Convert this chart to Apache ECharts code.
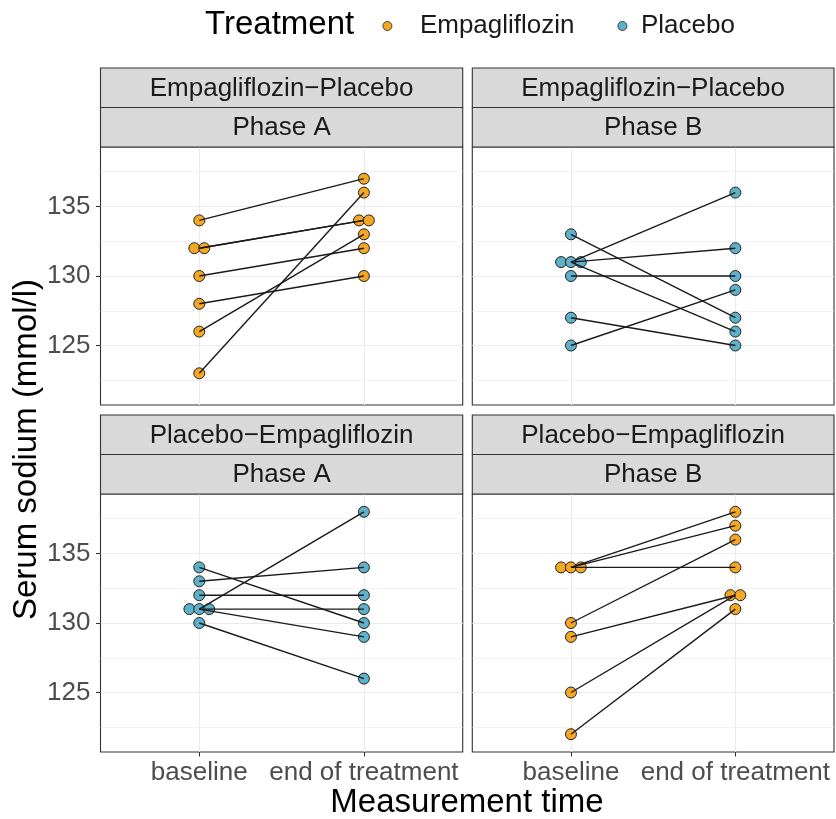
<!DOCTYPE html>
<html><head><meta charset="utf-8">
<script src="https://cdn.jsdelivr.net/npm/echarts@6/dist/echarts.min.js"></script>
<style>html,body{margin:0;padding:0;background:#fff}#c{width:836px;height:819px}</style>
</head><body><div id="c"></div>
<script>
// ---------- data ----------
const timeLabels = ['baseline', 'end of treatment'];
const sequenceLabels = ['Empagliflozin\u2212Placebo', 'Placebo\u2212Empagliflozin'];
const phaseLabels = ['Phase A', 'Phase B'];
const treatments = ['Empagliflozin', 'Placebo'];
const yTicks = [125, 130, 135];
const yMinorTicks = [122.5, 127.5, 132.5, 137.5];

// paired values per subject (baseline -> end of treatment)
const empPlaPhaseA_baseline = [134, 132, 132, 130, 128, 126, 123];
const empPlaPhaseA_end      = [137, 134, 134, 132, 130, 133, 136];
const empPlaPhaseB_baseline = [133, 131, 131, 131, 130, 127, 125];
const empPlaPhaseB_end      = [127, 136, 132, 126, 130, 125, 129];
const plaEmpPhaseA_baseline = [134, 133, 132, 131, 131, 131, 130];
const plaEmpPhaseA_end      = [130, 134, 132, 138, 131, 129, 126];
const plaEmpPhaseB_baseline = [134, 134, 134, 130, 129, 125, 122];
const plaEmpPhaseB_end      = [138, 137, 134, 136, 132, 132, 131];
const panelTreatment = ['Empagliflozin', 'Placebo', 'Placebo', 'Empagliflozin'];

// ---------- style / layout ----------
const FONT = '"Liberation Sans", Arial, Helvetica, sans-serif';
const COLORS = { 'Empagliflozin': '#F4A722', 'Placebo': '#5FB0C9' };
const Y_MIN = 120.72, Y_MAX = 139.28, X_MIN = 0.4, X_MAX = 2.6;
const DODGE = 0.06;
const colLeft = [100.5, 472.3], colWidth = [362.2, 361.7];
const rowTop = [147, 494], panelH = 258, stripH = 39.5;

const panels = [
  { seq: 0, phase: 0, b: empPlaPhaseA_baseline, e: empPlaPhaseA_end },
  { seq: 0, phase: 1, b: empPlaPhaseB_baseline, e: empPlaPhaseB_end },
  { seq: 1, phase: 0, b: plaEmpPhaseA_baseline, e: plaEmpPhaseA_end },
  { seq: 1, phase: 1, b: plaEmpPhaseB_baseline, e: plaEmpPhaseB_end }
];

function dodged(values, xPos) {
  const counts = {}, seen = {};
  values.forEach(v => { counts[v] = (counts[v] || 0) + 1; });
  return values.map(v => {
    const k = seen[v] || 0; seen[v] = k + 1;
    return [xPos + (k - (counts[v] - 1) / 2) * DODGE, v];
  });
}

const grids = [], xAxes = [], yAxes = [], series = [], graphics = [];
panels.forEach((p, i) => {
  const col = i % 2, row = Math.floor(i / 2);
  const left = colLeft[col], width = colWidth[col], top = rowTop[row];
  grids.push({ left: left, top: top, width: width, height: panelH, show: true,
    borderColor: '#333333', borderWidth: 1.1, backgroundColor: '#ffffff' });
  xAxes.push({ gridIndex: i, type: 'value', min: X_MIN, max: X_MAX,
    axisLine: { show: false },
    axisTick: { show: row === 1, customValues: [1, 2], length: 4.5, lineStyle: { color: '#333333', width: 1.1 } },
    axisLabel: { show: row === 1, customValues: [1, 2], formatter: v => timeLabels[Math.round(v) - 1],
      fontSize: 26, fontFamily: FONT, color: '#4D4D4D', margin: 8 },
    splitLine: { show: true, lineStyle: { color: '#EBEBEB', width: 1.1 } } });
  yAxes.push({ gridIndex: i, type: 'value', min: Y_MIN, max: Y_MAX,
    axisLine: { show: false },
    axisTick: { show: col === 0, customValues: yTicks, length: 4.5, lineStyle: { color: '#333333', width: 1.1 } },
    axisLabel: { show: col === 0, customValues: yTicks, fontSize: 26, fontFamily: FONT, color: '#4D4D4D', margin: 10 },
    splitLine: { show: true, lineStyle: { color: '#EBEBEB', width: 1.1 } } });
  yAxes.push({ gridIndex: i, type: 'value', min: Y_MIN, max: Y_MAX, position: 'left',
    axisLine: { show: false },
    axisTick: { show: false, customValues: yMinorTicks },
    axisLabel: { show: false },
    splitLine: { show: true, lineStyle: { color: '#EBEBEB', width: 0.6 } } });

  const tr = panelTreatment[i];
  series.push({ type: 'scatter', name: tr, xAxisIndex: i, yAxisIndex: 2 * i, z: 2,
    symbol: 'circle', symbolSize: 11,
    itemStyle: { color: COLORS[tr], borderColor: '#222222', borderWidth: 1, opacity: 1 },
    data: dodged(p.b, 1).concat(dodged(p.e, 2)) });
  p.b.forEach((bv, k) => {
    series.push({ type: 'line', xAxisIndex: i, yAxisIndex: 2 * i, z: 3, silent: true,
      symbol: 'none', lineStyle: { color: '#1A1A1A', width: 1.4 },
      data: [[1, bv], [2, p.e[k]]] });
  });

  // strips
  const labels = [sequenceLabels[p.seq], phaseLabels[p.phase]];
  labels.forEach((lab, s) => {
    const sy = top - 2 * stripH + s * stripH;
    graphics.push({ type: 'rect', shape: { x: left, y: sy, width: width, height: stripH },
      style: { fill: '#D9D9D9', stroke: '#333333', lineWidth: 1.1 }, z: 10 });
    graphics.push({ type: 'text', x: left + width / 2, y: sy + stripH / 2 + 1, z: 11,
      style: { text: lab, align: 'center', verticalAlign: 'middle', fontSize: 26, fontFamily: FONT, fill: '#1A1A1A' } });
  });
});

graphics.push({ type: 'text', x: 205, y: 25, style: { text: 'Treatment', align: 'left', verticalAlign: 'middle',
  fontSize: 33, fontFamily: FONT, fill: '#000000' } });
graphics.push({ type: 'text', x: 27, y: 449.5, rotation: Math.PI / 2,
  style: { text: 'Serum sodium (mmol/l)', align: 'center', verticalAlign: 'middle', fontSize: 33, fontFamily: FONT, fill: '#000000' } });
graphics.push({ type: 'text', x: 467, y: 803,
  style: { text: 'Measurement time', align: 'center', verticalAlign: 'middle', fontSize: 33, fontFamily: FONT, fill: '#000000' } });

const legendBase = { orient: 'horizontal', icon: 'circle', itemWidth: 9, itemHeight: 9, top: 8,
  itemStyle: { borderColor: '#222222', borderWidth: 0.8 } };
const legends = [
  Object.assign({}, legendBase, { left: 377.5, data: [treatments[0]],
    textStyle: { fontSize: 26, fontFamily: FONT, color: '#1A1A1A', lineHeight: 26, padding: [0, 0, 0, 23] } }),
  Object.assign({}, legendBase, { left: 612.5, data: [treatments[1]],
    textStyle: { fontSize: 26, fontFamily: FONT, color: '#1A1A1A', lineHeight: 26, padding: [0, 0, 0, 9] } })
];

const chart = echarts.init(document.getElementById('c'), null, { renderer: 'canvas' });
chart.setOption({
  animation: false,
  backgroundColor: '#ffffff',
  legend: legends,
  grid: grids, xAxis: xAxes, yAxis: yAxes, series: series,
  graphic: graphics
});
</script></body></html>
